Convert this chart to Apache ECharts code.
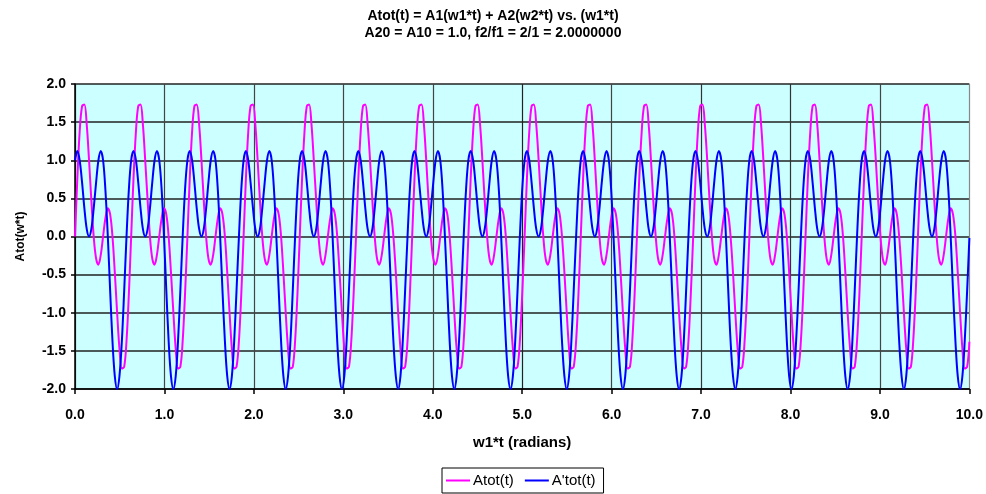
<!DOCTYPE html>
<html>
<head>
<meta charset="utf-8">
<script src="https://cdn.jsdelivr.net/npm/echarts@6/dist/echarts.min.js"></script>
<style>
html,body{margin:0;padding:0;background:#fff;}
#chart{width:986px;height:494px;}
</style>
</head>
<body>
<div id="chart"></div>
<script>
// x positions (w1*t) of the plotted samples
const xs = [
0, 0.026, 0.052, 0.079, 0.105, 0.131, 0.157, 0.183, 0.209, 0.236, 0.262, 0.288, 0.314, 0.340, 0.367, 0.393, 0.419, 0.445, 0.471, 0.497, 0.524, 0.550, 0.576, 0.602,
0.628, 0.654, 0.681, 0.707, 0.733, 0.759, 0.785, 0.812, 0.838, 0.864, 0.890, 0.916, 0.942, 0.969, 0.995, 1.021, 1.047, 1.073, 1.100, 1.126, 1.152, 1.178, 1.204, 1.230,
1.257, 1.283, 1.309, 1.335, 1.361, 1.388, 1.414, 1.440, 1.466, 1.492, 1.518, 1.545, 1.571, 1.597, 1.623, 1.649, 1.676, 1.702, 1.728, 1.754, 1.780, 1.806, 1.833, 1.859,
1.885, 1.911, 1.937, 1.963, 1.990, 2.016, 2.042, 2.068, 2.094, 2.121, 2.147, 2.173, 2.199, 2.225, 2.251, 2.278, 2.304, 2.330, 2.356, 2.382, 2.409, 2.435, 2.461, 2.487,
2.513, 2.539, 2.566, 2.592, 2.618, 2.644, 2.670, 2.697, 2.723, 2.749, 2.775, 2.801, 2.827, 2.854, 2.880, 2.906, 2.932, 2.958, 2.985, 3.011, 3.037, 3.063, 3.089, 3.115,
3.142, 3.168, 3.194, 3.220, 3.246, 3.272, 3.299, 3.325, 3.351, 3.377, 3.403, 3.430, 3.456, 3.482, 3.508, 3.534, 3.560, 3.587, 3.613, 3.639, 3.665, 3.691, 3.718, 3.744,
3.770, 3.796, 3.822, 3.848, 3.875, 3.901, 3.927, 3.953, 3.979, 4.006, 4.032, 4.058, 4.084, 4.110, 4.136, 4.163, 4.189, 4.215, 4.241, 4.267, 4.294, 4.320, 4.346, 4.372,
4.398, 4.424, 4.451, 4.477, 4.503, 4.529, 4.555, 4.581, 4.608, 4.634, 4.660, 4.686, 4.712, 4.739, 4.765, 4.791, 4.817, 4.843, 4.869, 4.896, 4.922, 4.948, 4.974, 5.000,
5.027, 5.053, 5.079, 5.105, 5.131, 5.157, 5.184, 5.210, 5.236, 5.262, 5.288, 5.315, 5.341, 5.367, 5.393, 5.419, 5.445, 5.472, 5.498, 5.524, 5.550, 5.576, 5.603, 5.629,
5.655, 5.681, 5.707, 5.733, 5.760, 5.786, 5.812, 5.838, 5.864, 5.890, 5.917, 5.943, 5.969, 5.995, 6.021, 6.048, 6.074, 6.100, 6.126, 6.152, 6.178, 6.205, 6.231, 6.257,
6.283, 6.309, 6.336, 6.362, 6.388, 6.414, 6.440, 6.466, 6.493, 6.519, 6.545, 6.571, 6.597, 6.624, 6.650, 6.676, 6.702, 6.728, 6.754, 6.781, 6.807, 6.833, 6.859, 6.885,
6.912, 6.938, 6.964, 6.990, 7.016, 7.042, 7.069, 7.095, 7.121, 7.147, 7.173, 7.199, 7.226, 7.252, 7.278, 7.304, 7.330, 7.357, 7.383, 7.409, 7.435, 7.461, 7.487, 7.514,
7.540, 7.566, 7.592, 7.618, 7.645, 7.671, 7.697, 7.723, 7.749, 7.775, 7.802, 7.828, 7.854, 7.880, 7.906, 7.933, 7.959, 7.985, 8.011, 8.037, 8.063, 8.090, 8.116, 8.142,
8.168, 8.194, 8.221, 8.247, 8.273, 8.299, 8.325, 8.351, 8.378, 8.404, 8.430, 8.456, 8.482, 8.508, 8.535, 8.561, 8.587, 8.613, 8.639, 8.666, 8.692, 8.718, 8.744, 8.770,
8.796, 8.823, 8.849, 8.875, 8.901, 8.927, 8.954, 8.980, 9.006, 9.032, 9.058, 9.084, 9.111, 9.137, 9.163, 9.189, 9.215, 9.242, 9.268, 9.294, 9.320, 9.346, 9.372, 9.399,
9.425, 9.451, 9.477, 9.503, 9.529, 9.556, 9.582, 9.608, 9.634, 9.660, 9.687, 9.713, 9.739, 9.765, 9.791, 9.817, 9.844, 9.870, 9.896, 9.922, 9.948, 9.975,
10.000
];

// Atot(t) values (magenta)
const atot = [
0, 0.76, 1.37, 1.71, 1.73, 1.47, 1.00, 0.47, 0, -0.29, -0.37, -0.24, 0, 0.24, 0.37, 0.29, 0, -0.47, -1.00, -1.47, -1.73, -1.71, -1.37, -0.76,
0, 0.76, 1.37, 1.71, 1.73, 1.47, 1.00, 0.47, 0, -0.29, -0.37, -0.24, 0, 0.24, 0.37, 0.29, 0, -0.47, -1.00, -1.47, -1.73, -1.71, -1.37, -0.76,
0, 0.76, 1.37, 1.71, 1.73, 1.47, 1.00, 0.47, 0, -0.29, -0.37, -0.24, 0, 0.24, 0.37, 0.29, 0, -0.47, -1.00, -1.47, -1.73, -1.71, -1.37, -0.76,
0, 0.76, 1.37, 1.71, 1.73, 1.47, 1.00, 0.47, 0, -0.29, -0.37, -0.24, 0, 0.24, 0.37, 0.29, 0, -0.47, -1.00, -1.47, -1.73, -1.71, -1.37, -0.76,
0, 0.76, 1.37, 1.71, 1.73, 1.47, 1.00, 0.47, 0, -0.29, -0.37, -0.24, 0, 0.24, 0.37, 0.29, 0, -0.47, -1.00, -1.47, -1.73, -1.71, -1.37, -0.76,
0, 0.76, 1.37, 1.71, 1.73, 1.47, 1.00, 0.47, 0, -0.29, -0.37, -0.24, 0, 0.24, 0.37, 0.29, 0, -0.47, -1.00, -1.47, -1.73, -1.71, -1.37, -0.76,
0, 0.76, 1.37, 1.71, 1.73, 1.47, 1.00, 0.47, 0, -0.29, -0.37, -0.24, 0, 0.24, 0.37, 0.29, 0, -0.47, -1.00, -1.47, -1.73, -1.71, -1.37, -0.76,
0, 0.76, 1.37, 1.71, 1.73, 1.47, 1.00, 0.47, 0, -0.29, -0.37, -0.24, 0, 0.24, 0.37, 0.29, 0, -0.47, -1.00, -1.47, -1.73, -1.71, -1.37, -0.76,
0, 0.76, 1.37, 1.71, 1.73, 1.47, 1.00, 0.47, 0, -0.29, -0.37, -0.24, 0, 0.24, 0.37, 0.29, 0, -0.47, -1.00, -1.47, -1.73, -1.71, -1.37, -0.76,
0, 0.76, 1.37, 1.71, 1.73, 1.47, 1.00, 0.47, 0, -0.29, -0.37, -0.24, 0, 0.24, 0.37, 0.29, 0, -0.47, -1.00, -1.47, -1.73, -1.71, -1.37, -0.76,
0, 0.76, 1.37, 1.71, 1.73, 1.47, 1.00, 0.47, 0, -0.29, -0.37, -0.24, 0, 0.24, 0.37, 0.29, 0, -0.47, -1.00, -1.47, -1.73, -1.71, -1.37, -0.76,
0, 0.76, 1.37, 1.71, 1.73, 1.47, 1.00, 0.47, 0, -0.29, -0.37, -0.24, 0, 0.24, 0.37, 0.29, 0, -0.47, -1.00, -1.47, -1.73, -1.71, -1.37, -0.76,
0, 0.76, 1.37, 1.71, 1.73, 1.47, 1.00, 0.47, 0, -0.29, -0.37, -0.24, 0, 0.24, 0.37, 0.29, 0, -0.47, -1.00, -1.47, -1.73, -1.71, -1.37, -0.76,
0, 0.76, 1.37, 1.71, 1.73, 1.47, 1.00, 0.47, 0, -0.29, -0.37, -0.24, 0, 0.24, 0.37, 0.29, 0, -0.47, -1.00, -1.47, -1.73, -1.71, -1.37, -0.76,
0, 0.76, 1.37, 1.71, 1.73, 1.47, 1.00, 0.47, 0, -0.29, -0.37, -0.24, 0, 0.24, 0.37, 0.29, 0, -0.47, -1.00, -1.47, -1.73, -1.71, -1.37, -0.76,
0, 0.76, 1.37, 1.71, 1.73, 1.47, 1.00, 0.47, 0, -0.29, -0.37, -0.24, 0, 0.24, 0.37, 0.29, 0, -0.47, -1.00, -1.47, -1.73, -1.71,
-1.38
];

// A'tot(t) values (blue)
const aptot = [
1.00, 1.12, 1.00, 0.71, 0.37, 0.10, 0, 0.10, 0.37, 0.71, 1.00, 1.12, 1.00, 0.61, 0, -0.71, -1.37, -1.83, -2.00, -1.83, -1.37, -0.71, 0, 0.61,
1.00, 1.12, 1.00, 0.71, 0.37, 0.10, 0, 0.10, 0.37, 0.71, 1.00, 1.12, 1.00, 0.61, 0, -0.71, -1.37, -1.83, -2.00, -1.83, -1.37, -0.71, 0, 0.61,
1.00, 1.12, 1.00, 0.71, 0.37, 0.10, 0, 0.10, 0.37, 0.71, 1.00, 1.12, 1.00, 0.61, 0, -0.71, -1.37, -1.83, -2.00, -1.83, -1.37, -0.71, 0, 0.61,
1.00, 1.12, 1.00, 0.71, 0.37, 0.10, 0, 0.10, 0.37, 0.71, 1.00, 1.12, 1.00, 0.61, 0, -0.71, -1.37, -1.83, -2.00, -1.83, -1.37, -0.71, 0, 0.61,
1.00, 1.12, 1.00, 0.71, 0.37, 0.10, 0, 0.10, 0.37, 0.71, 1.00, 1.12, 1.00, 0.61, 0, -0.71, -1.37, -1.83, -2.00, -1.83, -1.37, -0.71, 0, 0.61,
1.00, 1.12, 1.00, 0.71, 0.37, 0.10, 0, 0.10, 0.37, 0.71, 1.00, 1.12, 1.00, 0.61, 0, -0.71, -1.37, -1.83, -2.00, -1.83, -1.37, -0.71, 0, 0.61,
1.00, 1.12, 1.00, 0.71, 0.37, 0.10, 0, 0.10, 0.37, 0.71, 1.00, 1.12, 1.00, 0.61, 0, -0.71, -1.37, -1.83, -2.00, -1.83, -1.37, -0.71, 0, 0.61,
1.00, 1.12, 1.00, 0.71, 0.37, 0.10, 0, 0.10, 0.37, 0.71, 1.00, 1.12, 1.00, 0.61, 0, -0.71, -1.37, -1.83, -2.00, -1.83, -1.37, -0.71, 0, 0.61,
1.00, 1.12, 1.00, 0.71, 0.37, 0.10, 0, 0.10, 0.37, 0.71, 1.00, 1.12, 1.00, 0.61, 0, -0.71, -1.37, -1.83, -2.00, -1.83, -1.37, -0.71, 0, 0.61,
1.00, 1.12, 1.00, 0.71, 0.37, 0.10, 0, 0.10, 0.37, 0.71, 1.00, 1.12, 1.00, 0.61, 0, -0.71, -1.37, -1.83, -2.00, -1.83, -1.37, -0.71, 0, 0.61,
1.00, 1.12, 1.00, 0.71, 0.37, 0.10, 0, 0.10, 0.37, 0.71, 1.00, 1.12, 1.00, 0.61, 0, -0.71, -1.37, -1.83, -2.00, -1.83, -1.37, -0.71, 0, 0.61,
1.00, 1.12, 1.00, 0.71, 0.37, 0.10, 0, 0.10, 0.37, 0.71, 1.00, 1.12, 1.00, 0.61, 0, -0.71, -1.37, -1.83, -2.00, -1.83, -1.37, -0.71, 0, 0.61,
1.00, 1.12, 1.00, 0.71, 0.37, 0.10, 0, 0.10, 0.37, 0.71, 1.00, 1.12, 1.00, 0.61, 0, -0.71, -1.37, -1.83, -2.00, -1.83, -1.37, -0.71, 0, 0.61,
1.00, 1.12, 1.00, 0.71, 0.37, 0.10, 0, 0.10, 0.37, 0.71, 1.00, 1.12, 1.00, 0.61, 0, -0.71, -1.37, -1.83, -2.00, -1.83, -1.37, -0.71, 0, 0.61,
1.00, 1.12, 1.00, 0.71, 0.37, 0.10, 0, 0.10, 0.37, 0.71, 1.00, 1.12, 1.00, 0.61, 0, -0.71, -1.37, -1.83, -2.00, -1.83, -1.37, -0.71, 0, 0.61,
1.00, 1.12, 1.00, 0.71, 0.37, 0.10, 0, 0.10, 0.37, 0.71, 1.00, 1.12, 1.00, 0.61, 0, -0.71, -1.37, -1.83, -2.00, -1.83, -1.37, -0.71,
-0.02
];

const seriesNames = ['Atot(t)', "A'tot(t)"];
const titleLines = ['Atot(t) = A1(w1*t) + A2(w2*t) vs. (w1*t)', 'A20 = A10 = 1.0, f2/f1 = 2/1 = 2.0000000'];
const xAxisName = 'w1*t (radians)';
const yAxisName = 'Atot(w*t)';

const FONT = '"Liberation Sans", Arial, sans-serif';
const chart = echarts.init(document.getElementById('chart'), null, {renderer: 'canvas'});

const xSplitColors = ['#333','#444','#444','#444','#444','#222','#444','#333','#333','#444','#888'];

chart.setOption({
  animation: false,
  backgroundColor: '#ffffff',
  title: {
    text: titleLines.join('\n'),
    left: 'center',
    top: 3,
    textStyle: {fontFamily: FONT, fontSize: 14, fontWeight: 'bold', color: '#000', lineHeight: 17}
  },
  legend: {
    data: seriesNames,
    left: 442,
    top: 468,
    orient: 'horizontal',
    icon: 'rect',
    itemWidth: 24,
    itemHeight: 2,
    itemGap: 11,
    padding: [5, 8, 5, 4],
    borderColor: '#000',
    borderWidth: 1,
    backgroundColor: '#fff',
    textStyle: {fontFamily: FONT, fontSize: 15, color: '#000', padding: [0, 0, 0, -2]}
  },
  grid: {
    left: 75, right: 14, top: 84, bottom: 105,
    show: true,
    backgroundColor: '#CCFFFF',
    borderWidth: 0
  },
  xAxis: {
    type: 'value',
    min: 0, max: 10, interval: 1,
    name: xAxisName,
    nameLocation: 'middle',
    nameGap: 46,
    nameTextStyle: {fontFamily: FONT, fontSize: 15, fontWeight: 'bold', color: '#000'},
    axisLine: {show: true, onZero: false, lineStyle: {color: '#000', width: 1.5}},
    axisTick: {show: true, length: 5, lineStyle: {color: '#000', width: 1.5}},
    axisLabel: {fontFamily: FONT, fontSize: 14, fontWeight: 'bold', color: '#000', margin: 19,
      formatter: v => v.toFixed(1)},
    splitLine: {show: true, lineStyle: {color: xSplitColors, width: 1.2}}
  },
  yAxis: {
    type: 'value',
    min: -2, max: 2, interval: 0.5,
    name: yAxisName,
    nameLocation: 'middle',
    nameGap: 48,
    nameRotate: 90,
    nameTextStyle: {fontFamily: FONT, fontSize: 12, fontWeight: 'bold', color: '#000'},
    axisLine: {show: true, onZero: false, lineStyle: {color: '#000', width: 1.5}},
    axisTick: {show: true, length: 4, lineStyle: {color: '#000', width: 1.5}},
    axisLabel: {fontFamily: FONT, fontSize: 14, fontWeight: 'bold', color: '#000', margin: 9,
      formatter: v => v.toFixed(1)},
    splitLine: {show: true, lineStyle: {color: '#222', width: 1.5}}
  },
  series: [
    {
      name: seriesNames[0],
      type: 'line',
      data: xs.map((x, i) => [x, atot[i]]),
      showSymbol: false,
      smooth: 0.35,
      clip: false,
      lineStyle: {color: '#FF00FF', width: 2},
      itemStyle: {color: '#FF00FF'}
    },
    {
      name: seriesNames[1],
      type: 'line',
      data: xs.map((x, i) => [x, aptot[i]]),
      showSymbol: false,
      smooth: 0.35,
      clip: false,
      lineStyle: {color: '#0000FF', width: 2},
      itemStyle: {color: '#0000FF'}
    }
  ]
});
</script>
</body>
</html>
